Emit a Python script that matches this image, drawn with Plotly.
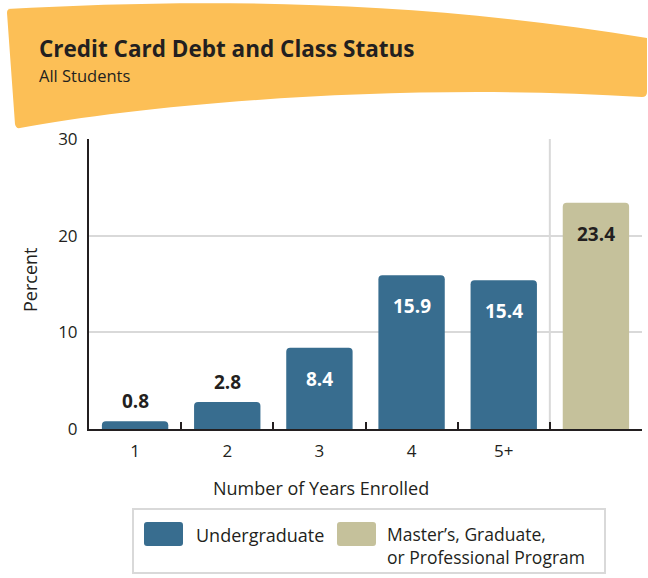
import plotly.graph_objects as go

# ---- data ----
categories = ["1", "2", "3", "4", "5+", "Grad"]
tick_labels = ["1", "2", "3", "4", "5+", ""]
percent = [0.8, 2.8, 8.4, 15.9, 15.4, 23.4]
group = ["Undergraduate"] * 5 + ["Master’s, Graduate, or Professional Program"]

BLUE = "#386d8f"
TAN = "#c5c19b"
ORANGE = "#fcbf56"
INK = "#231f20"
GRID = "#d9d9d9"
FONT = "Open Sans"

W, H = 648, 578
L, R, T, B = 89, 6, 139, 149
PW, PH = W - L - R, H - T - B


def fx(px):
    return (px - L) / PW


def fy(py):
    return (H - B - py) / PH


def path(cmds):
    out = []
    for c in cmds:
        if isinstance(c, str):
            out.append(c)
        else:
            out.append(f"{fx(c[0]):.5f},{fy(c[1]):.5f}")
    return " ".join(out)


def rounded_rect(x0, y0, x1, y1, r):
    return path([
        "M", (x0 + r, y0), "L", (x1 - r, y0), "Q", (x1, y0), (x1, y0 + r),
        "L", (x1, y1 - r), "Q", (x1, y1), (x1 - r, y1),
        "L", (x0 + r, y1), "Q", (x0, y1), (x0, y1 - r),
        "L", (x0, y0 + r), "Q", (x0, y0), (x0 + r, y0), "Z",
    ])


colors = [BLUE if g == "Undergraduate" else TAN for g in group]

fig = go.Figure(
    go.Bar(
        x=categories,
        y=percent,
        marker=dict(color=colors, line=dict(width=0), cornerradius=4),
        width=0.72,
        hoverinfo="x+y",
        showlegend=False,
    )
)

# value labels: small bars get a label above, tall bars inside near the top
annotations = []
for i, (val, col) in enumerate(zip(percent, colors)):
    inside = val > 5
    annotations.append(dict(
        x=i, y=val, xref="x", yref="y",
        text=f"<b>{val:.1f}</b>", showarrow=False,
        yshift=-31 if inside else 20,
        font=dict(family=FONT, size=19, color=("white" if (inside and col == BLUE) else INK)),
        yanchor="middle",
    ))

# header banner
banner = path([
    "M", (7, 9), "C", (200, -2), (420, 0), (647, 38),
    "L", (647, 92), "Q", (647, 97), (642, 97),
    "C", (400, 82), (150, 104), (20, 128),
    "Q", (16, 129), (15, 124),
    "L", (7, 13), "Q", (7, 9), (10, 9), "Z",
])

shapes = [
    dict(type="path", xref="paper", yref="paper", path=banner,
         fillcolor=ORANGE, line=dict(width=0), layer="below"),
    # divider between undergraduate and graduate groups
    dict(type="line", xref="x", yref="y", x0=4.5, x1=4.5, y0=0, y1=30,
         line=dict(color=GRID, width=2), layer="below"),
    # legend frame
    dict(type="rect", xref="paper", yref="paper",
         x0=fx(133), x1=fx(605), y0=fy(509), y1=fy(573),
         line=dict(color=GRID, width=2), fillcolor="white"),
    dict(type="path", xref="paper", yref="paper", path=rounded_rect(144, 522, 183, 546, 3),
         fillcolor=BLUE, line=dict(width=0)),
    dict(type="path", xref="paper", yref="paper", path=rounded_rect(337, 522, 376, 546, 3),
         fillcolor=TAN, line=dict(width=0)),
]


def text_at(px, py, text, size, anchor="left", bold=False, angle=0):
    return dict(xref="paper", yref="paper", x=fx(px), y=fy(py),
                xanchor=anchor, yanchor="middle", textangle=angle, align="left",
                text=f"<b>{text}</b>" if bold else text, showarrow=False,
                font=dict(family=FONT, size=size, color=INK))


annotations += [
    text_at(37, 48.5, "Credit Card Debt and Class Status", 22.5, bold=True),
    text_at(37, 75, "All Students", 16.5),
    text_at(321, 488, "Number of Years Enrolled", 18, anchor="center"),
    text_at(30, 280, "Percent", 18, anchor="center", angle=-90),
    text_at(194, 535, group[0], 18),
    text_at(385, 545, "Master’s, Graduate,<br>or Professional Program", 17.5),
]

fig.update_layout(
    width=W, height=H,
    margin=dict(l=L, r=R, t=T, b=B),
    paper_bgcolor="white", plot_bgcolor="white",
    font=dict(family=FONT, size=17, color=INK),
    shapes=shapes,
    annotations=annotations,
    xaxis=dict(
        type="category",
        categoryorder="array", categoryarray=categories,
        tickmode="array", tickvals=categories, ticktext=tick_labels,
        tickson="boundaries", ticks="inside", ticklen=7, tickwidth=2, tickcolor=INK,
        showline=True, linecolor=INK, linewidth=2,
        showgrid=False, zeroline=False,
        tickfont=dict(family=FONT, size=17, color=INK),
        ticklabelstandoff=6,
        range=[-0.5, 5.5],
        fixedrange=True,
    ),
    yaxis=dict(
        range=[0, 30], dtick=10, tick0=0,
        showline=True, linecolor=INK, linewidth=2,
        showgrid=True, gridcolor=GRID, gridwidth=2,
        zeroline=False, ticks="",
        tickfont=dict(family=FONT, size=17, color=INK),
        ticklabelstandoff=6,
        fixedrange=True,
    ),
)

fig.write_html("out.html")
